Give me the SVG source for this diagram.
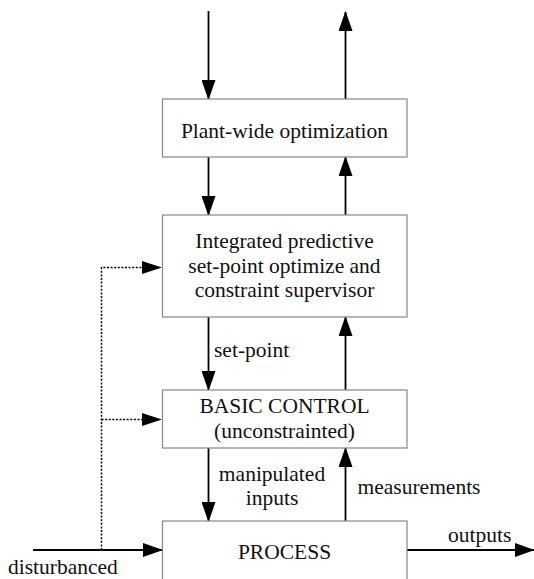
<svg xmlns="http://www.w3.org/2000/svg" width="534" height="579" viewBox="0 0 534 579">
<defs>
<marker id="arr" markerUnits="userSpaceOnUse" markerWidth="20" markerHeight="14" refX="19" refY="7" orient="auto">
<polygon points="0,0 20,7 0,14" fill="#000"/>
</marker>
<style>
.box{fill:#fff;stroke:#888;stroke-width:1.2}
.t{font-family:"Liberation Serif","Times New Roman",serif;font-size:21.5px;fill:#111}
.c{text-anchor:middle}
.ln{stroke:#000;stroke-width:1.8;fill:none;marker-end:url(#arr)}
.dot{stroke:#000;stroke-width:1.5;fill:none;stroke-dasharray:2,1.6}
</style>
</defs>
<rect width="534" height="579" fill="#fff"/>
<g id="connectors">
<line class="ln" x1="208.5" y1="11" x2="208.5" y2="99"/>
<line class="ln" x1="345.5" y1="99" x2="345.5" y2="12"/>
<line class="ln" x1="208.5" y1="157" x2="208.5" y2="215"/>
<line class="ln" x1="345.5" y1="215" x2="345.5" y2="157"/>
<line class="ln" x1="208.5" y1="317" x2="208.5" y2="390"/>
<line class="ln" x1="345.5" y1="390" x2="345.5" y2="317"/>
<line class="ln" x1="208.5" y1="448" x2="208.5" y2="521"/>
<line class="ln" x1="345.5" y1="521" x2="345.5" y2="448"/>
<line class="ln" x1="33" y1="550" x2="162" y2="550"/>
<line class="ln" x1="407" y1="550" x2="534" y2="550"/>
<polyline class="dot" points="101.5,550 101.5,267.5 144,267.5"/>
<line class="dot" x1="101.5" y1="419.5" x2="144" y2="419.5"/>
<polygon points="142,261 162,267.5 142,274" fill="#000"/>
<polygon points="142,413 162,419.5 142,426" fill="#000"/>
<text class="t" x="214" y="357">set-point</text>
<text class="t c" x="272" y="481">manipulated</text>
<text class="t c" x="272" y="505">inputs</text>
<text class="t" x="357.5" y="494">measurements</text>
<text class="t" x="448" y="542">outputs</text>
<text class="t" x="8" y="574">disturbanced</text>
</g>
<g id="plant">
<rect class="box" x="162.5" y="99" width="244.5" height="58"/>
<text class="t c" x="284.5" y="138">Plant-wide optimization</text>
</g>
<g id="integrated">
<rect class="box" x="162.5" y="215" width="244.5" height="102"/>
<text class="t c" x="284.5" y="248">Integrated predictive</text>
<text class="t c" x="284.5" y="273">set-point optimize and</text>
<text class="t c" x="284.5" y="297">constraint supervisor</text>
</g>
<g id="basic">
<rect class="box" x="162.5" y="390" width="244.5" height="58"/>
<text class="t c" x="284.5" y="413">BASIC CONTROL</text>
<text class="t c" x="284.5" y="438">(unconstrainted)</text>
</g>
<g id="process">
<rect class="box" x="162.5" y="521" width="244.5" height="62"/>
<text class="t c" x="284.5" y="559">PROCESS</text>
</g>
</svg>
